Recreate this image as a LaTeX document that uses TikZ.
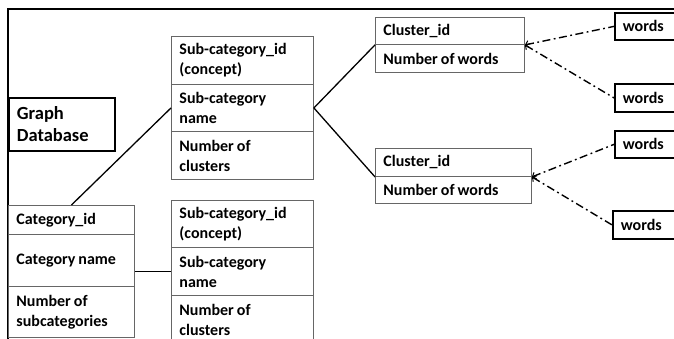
\documentclass[tikz,border=0pt]{standalone}
\usepackage{fontspec}
\setmainfont{Carlito}
\usetikzlibrary{arrows.meta}
\begin{document}
\begin{tikzpicture}[x=1pt,y=-1pt,
  cell/.style={draw=black!60, line width=0.9pt, anchor=north west,
    inner xsep=8pt, inner ysep=0pt, align=left,
    font=\bfseries\fontsize{16}{20}\selectfont,
    execute at begin node={\spaceskip=0.19em\relax}},
  heavy/.style={cell, draw=black, line width=1.8pt},
  link/.style={line width=1.3pt},
  dashlink/.style={line width=1.4pt,
    dash pattern=on 8pt off 3.5pt on 1.8pt off 3.5pt,
    {Straight Barb[length=3pt,width=7pt,line width=1pt]}-}
]
\useasboundingbox (0,0) rectangle (674,339);
\clip (0,0) rectangle (674,339);

% outer frame
\draw[line width=1.8pt] (8,350) |- (690,9);

% title box
\node[heavy, text width=90pt, minimum height=53pt,
  font=\bfseries\fontsize{18.5}{22}\selectfont] (gdb) at (8,97) {Graph\\Database};

% category table
\node[cell, text width=110pt, minimum height=29pt] (cata) at (8,205) {Category\_id};
\node[cell, text width=110pt, minimum height=52pt] (catb) at (8,234) {Category name};
\node[cell, text width=110pt, minimum height=51pt] (catc) at (8,286) {Number of\\subcategories};

% first sub-category table
\node[cell, text width=126pt, minimum height=48pt] (sa1) at (171,36) {Sub-category\_id\\(concept)};
\node[cell, text width=126pt, minimum height=47pt] (sb1) at (171,84) {Sub-category\\name};
\node[cell, text width=126pt, minimum height=48pt] (sc1) at (171,131) {Number of\\clusters};

% second sub-category table
\node[cell, text width=126pt, minimum height=47pt] (sa2) at (171,200) {Sub-category\_id\\(concept)};
\node[cell, text width=126pt, minimum height=48pt] (sb2) at (171,247) {Sub-category\\name};
\node[cell, text width=126pt, minimum height=48pt] (sc2) at (171,295) {Number of\\clusters};

% cluster tables
\node[cell, text width=133pt, minimum height=27pt] (ca1) at (375,17) {Cluster\_id};
\node[cell, text width=133pt, minimum height=28pt] (cb1) at (375,44) {Number of words};
\node[cell, text width=140pt, minimum height=28pt] (ca2) at (375,148) {Cluster\_id};
\node[cell, text width=140pt, minimum height=27pt] (cb2) at (375,176) {Number of words};

% word boxes
\node[heavy, text width=64pt, minimum height=27pt] (w1) at (614,12) {words};
\node[heavy, text width=64pt, minimum height=28pt] (w2) at (614,83) {words};
\node[heavy, text width=64pt, minimum height=27pt] (w3) at (614,130) {words};
\node[heavy, text width=64pt, minimum height=28pt] (w4) at (612,210) {words};

% solid links
\draw[link] (cata.north) -- (sb1.west);
\draw[link] (sb2.west -| catb.east) -- (sb2.west);
\draw[link] (sb1.east) -- (ca1.south west);
\draw[link] (sb1.east) -- (ca2.south west);

% dash-dot links to the words
\draw[dashlink] (ca1.south east) -- (w1.west);
\draw[dashlink] (ca1.south east) -- (w2.west);
\draw[dashlink] (ca2.south east) -- (w3.west);
\draw[dashlink] (ca2.south east) -- (w4.west);
\end{tikzpicture}
\end{document}
